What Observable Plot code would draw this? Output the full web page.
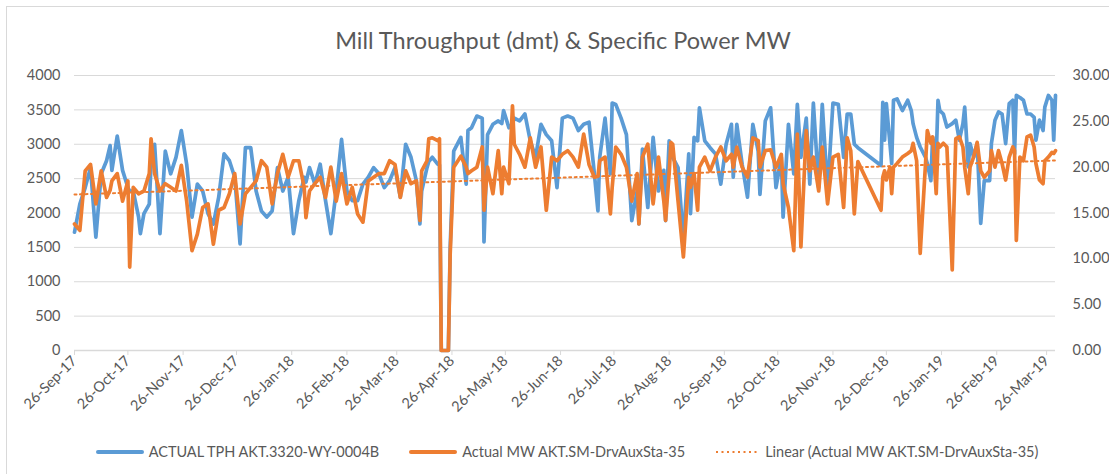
<!DOCTYPE html>
<html>
<head>
<meta charset="utf-8">
<script src="https://cdn.jsdelivr.net/npm/d3@7"></script>
<script src="https://cdn.jsdelivr.net/npm/@observablehq/plot@0.6"></script>
<style>
  html, body { margin: 0; padding: 0; background: #fff; overflow: hidden; width: 1109px; height: 474px; }
  body { font-family: Lato, "Open Sans", sans-serif; color: #595959; position: relative; }
  #frame { position: absolute; left: 6px; top: 6px; width: 1300px; height: 700px; border: 1px solid #d9d9d9; box-sizing: border-box; }
  #title { position: absolute; left: 0; top: 27px; width: 1126px; text-align: center; font-size: 23.5px; line-height: 26px; color: #595959; }
  #chart { position: absolute; left: 0; top: 60px; }
  #legend { position: absolute; left: 0; top: 442px; width: 1134px; display: flex; justify-content: center; gap: 30px; font-size: 14.5px; line-height: 20px; color: #595959; }
  .item { display: flex; align-items: center; white-space: nowrap; }
  .item svg { margin-right: 5px; }
</style>
</head>
<body>
<div id="frame"></div>
<div id="title">Mill Throughput (dmt) &amp; Specific Power MW</div>
<div id="chart"></div>
<div id="legend"></div>
<script>
// ---- data ----
const dates = [
"2017-09-26","2017-09-29","2017-10-02","2017-10-05","2017-10-08","2017-10-11","2017-10-14","2017-10-16","2017-10-17","2017-10-20",
"2017-10-23","2017-10-26","2017-10-27","2017-10-29","2017-11-01","2017-11-02","2017-11-04","2017-11-07","2017-11-08","2017-11-10",
"2017-11-13","2017-11-16","2017-11-19","2017-11-22","2017-11-25","2017-11-28","2017-12-01","2017-12-04","2017-12-07","2017-12-10",
"2017-12-13","2017-12-16","2017-12-19","2017-12-22","2017-12-25","2017-12-28","2017-12-31","2018-01-03","2018-01-06","2018-01-09",
"2018-01-12","2018-01-15","2018-01-18","2018-01-21","2018-01-24","2018-01-27","2018-01-30","2018-02-02","2018-02-03","2018-02-05",
"2018-02-08","2018-02-11","2018-02-14","2018-02-17","2018-02-20","2018-02-23","2018-02-26","2018-03-01","2018-03-04","2018-03-07",
"2018-03-10","2018-03-13","2018-03-16","2018-03-19","2018-03-22","2018-03-25","2018-03-28","2018-03-31","2018-04-03","2018-04-06",
"2018-04-08","2018-04-09","2018-04-12","2018-04-13","2018-04-15","2018-04-18","2018-04-19","2018-04-20","2018-04-24","2018-04-25",
"2018-04-27","2018-05-01","2018-05-04","2018-05-05","2018-05-07","2018-05-10","2018-05-13","2018-05-14","2018-05-16","2018-05-19",
"2018-05-22","2018-05-24","2018-05-25","2018-05-28","2018-05-30","2018-05-31","2018-06-03","2018-06-06","2018-06-09","2018-06-12",
"2018-06-15","2018-06-18","2018-06-21","2018-06-24","2018-06-27","2018-06-30","2018-07-03","2018-07-06","2018-07-09","2018-07-12",
"2018-07-15","2018-07-17","2018-07-18","2018-07-21","2018-07-24","2018-07-25","2018-07-27","2018-07-30","2018-08-02","2018-08-05",
"2018-08-08","2018-08-09","2018-08-11","2018-08-14","2018-08-17","2018-08-20","2018-08-23","2018-08-24","2018-08-26","2018-08-27",
"2018-08-28","2018-08-31","2018-09-03","2018-09-06","2018-09-07","2018-09-09","2018-09-11","2018-09-12","2018-09-15","2018-09-18",
"2018-09-21","2018-09-24","2018-09-27","2018-09-30","2018-10-01","2018-10-03","2018-10-06","2018-10-09","2018-10-12","2018-10-15",
"2018-10-16","2018-10-19","2018-10-22","2018-10-25","2018-10-28","2018-10-29","2018-11-01","2018-11-04","2018-11-06","2018-11-08",
"2018-11-11","2018-11-13","2018-11-15","2018-11-18","2018-11-20","2018-11-23","2018-11-26","2018-11-29","2018-12-02","2018-12-04",
"2018-12-06","2018-12-08","2018-12-10","2018-12-23","2018-12-24","2018-12-25","2018-12-26","2018-12-28","2018-12-29","2018-12-30",
"2019-01-01","2019-01-04","2019-01-07","2019-01-09","2019-01-10","2019-01-12","2019-01-14","2019-01-17","2019-01-18","2019-01-20",
"2019-01-21","2019-01-23","2019-01-24","2019-01-25","2019-01-27","2019-01-29","2019-02-01","2019-02-03","2019-02-05","2019-02-07",
"2019-02-08","2019-02-10","2019-02-11","2019-02-13","2019-02-15","2019-02-17","2019-02-19","2019-02-22","2019-02-23","2019-02-25",
"2019-02-27","2019-03-01","2019-03-03","2019-03-05","2019-03-07","2019-03-08","2019-03-09","2019-03-11","2019-03-13","2019-03-15",
"2019-03-17","2019-03-19","2019-03-20","2019-03-22","2019-03-24","2019-03-25","2019-03-27","2019-03-29","2019-03-30","2019-03-31"
];
const actualTPH = [
1720,2130,2370,2660,1650,2570,2760,2980,2620,3120,
2620,2370,2320,2320,1940,1700,1990,2130,2710,3000,
1700,2900,2570,2810,3200,2710,1940,2420,2320,1990,
1840,2230,2860,2760,2520,1550,2950,2950,2320,2030,
1940,2030,2660,2320,2520,1700,2180,2520,2450,2660,
2420,2710,2180,1700,2320,3070,2320,2180,2180,2420,
2520,2660,2570,2370,2470,2660,2230,3000,2810,2470,
1840,2320,2660,2750,2810,2710,2700,0,0,1500,
2900,3100,2420,3200,3240,3410,3380,1580,3140,3290,
3340,3300,3490,3240,3300,3380,3340,3440,3050,2810,
3290,3140,3050,2370,3380,3410,3380,3200,3290,3320,
2570,2030,2810,3380,2570,3600,3580,3380,3140,1890,
2320,1840,2930,2080,3100,2320,2620,1890,3050,2810,
2810,2660,1600,2860,1990,3100,3050,3530,3050,2950,
2860,2420,3000,3290,2520,3290,2710,2230,3290,2900,
2270,3340,3530,2370,2810,1940,3290,2570,3580,2810,
3380,2420,3600,2370,3580,2320,3600,3580,2810,3440,
3440,3000,2950,2690,3610,3060,3590,3010,2720,3640,
3660,3490,3640,3490,3300,3100,2960,2810,2720,2470,
3100,2810,3640,3490,3440,3250,3300,3350,3060,3300,
3540,2670,3010,2810,3010,1850,2470,2470,3010,3350,
3470,3440,3010,3590,3640,2860,3710,3680,3640,3440,
3440,3390,3060,3350,3200,3540,3710,3640,3060,3710
];
const actualMW = [
13.8,13.1,19.6,20.3,16.0,19.6,16.7,17.5,18.5,19.3,
16.3,18.5,9.1,17.8,17.1,17.2,17.4,19.3,23.1,19.3,
17.4,18.2,17.8,17.4,20.2,16.3,10.9,12.7,15.6,16.0,
11.6,15.3,15.6,17.1,19.3,13.8,17.1,17.8,18.5,20.7,
20.0,16.0,19.3,21.4,18.9,20.7,20.7,17.8,14.5,17.4,
18.2,18.9,16.7,20.0,16.3,19.3,16.0,17.8,14.9,14.0,
18.5,18.9,19.3,19.3,20.7,20.3,16.7,19.6,18.2,18.5,
14.2,19.6,20.7,23.1,23.2,22.9,23.1,0,0,10.5,
20.0,21.2,20.0,19.3,19.6,20.0,22.2,15.3,20.0,17.1,
21.8,17.1,20.0,18.2,26.7,22.5,21.4,20.0,23.2,20.0,
22.2,15.3,21.1,20.7,21.4,21.8,21.1,20.0,23.6,20.3,
18.9,19.0,20.7,21.1,14.9,17.8,22.2,21.4,20.0,16.3,
19.3,13.8,21.1,22.5,16.0,21.1,16.3,14.2,19.3,22.7,
22.5,16.3,10.2,18.9,17.8,19.3,15.3,20.0,21.1,19.6,
21.1,22.2,20.7,21.4,20.0,22.2,20.0,18.9,23.2,22.9,
20.0,21.8,21.9,20.0,21.4,18.2,15.6,10.9,23.6,11.3,
24.0,19.6,21.1,17.4,22.2,16.0,21.1,21.4,15.6,23.2,
21.8,14.9,20.6,15.3,18.9,19.6,18.6,20.0,17.1,20.0,
20.4,21.1,21.5,21.8,22.6,20.7,10.6,20.4,24.0,22.6,
23.3,17.1,22.6,22.2,22.6,22.2,8.8,23.1,23.3,22.2,
20.0,17.1,20.0,21.1,22.7,19.6,18.9,19.6,21.8,20.0,
21.8,20.4,18.6,21.1,22.2,21.8,12.0,21.1,20.7,23.3,
23.5,22.2,20.4,18.6,18.2,20.7,21.1,21.6,21.5,21.8
];
const leftTicks = [0, 500, 1000, 1500, 2000, 2500, 3000, 3500, 4000];
const rightTicks = [0, 5, 10, 15, 20, 25, 30];
const leftMax = 4000, rightMax = 30;
const xTickLabels = ["2017-09-26","2017-10-26","2017-11-26","2017-12-26","2018-01-26","2018-02-26","2018-03-26","2018-04-26","2018-05-26","2018-06-26","2018-07-26","2018-08-26","2018-09-26","2018-10-26","2018-11-26","2018-12-26","2019-01-26","2019-02-26","2019-03-26"];
const xDomain = ["2017-09-26", "2019-03-31"];
const seriesNames = ["ACTUAL TPH AKT.3320-WY-0004B", "Actual MW AKT.SM-DrvAuxSta-35", "Linear (Actual MW AKT.SM-DrvAuxSta-35)"];
const colors = ["#5b9bd5", "#ed7d31"];

// ---- build ----
const parse = d3.utcParse("%Y-%m-%d");
const toLeft = v => v * leftMax / rightMax;   // secondary (MW) axis mapped onto the primary scale
const rows = dates.map((d, i) => ({date: parse(d), tph: actualTPH[i], mw: actualMW[i], mwLeft: toLeft(actualMW[i])}));

// least-squares linear trend of MW against date (Excel "Linear" trendline)
const xs = rows.map(r => +r.date), ys = rows.map(r => r.mwLeft);
const mx = d3.mean(xs), my = d3.mean(ys);
const slope = d3.sum(xs.map((x, i) => (x - mx) * (ys[i] - my))) / d3.sum(xs.map(x => (x - mx) ** 2));
const intercept = my - slope * mx;
const trend = d3.extent(xs).map(x => ({date: new Date(x), v: intercept + slope * x}));

const fmt = d3.utcFormat("%d-%b-%y");
const chart = Plot.plot({
  width: 1109,
  height: 370,
  marginLeft: 74,
  marginRight: 54,
  marginTop: 15,
  marginBottom: 80,
  style: {fontFamily: "Lato, 'Open Sans', sans-serif", fontSize: "14.5px", color: "#595959", background: "transparent"},
  x: {type: "utc", domain: xDomain.map(parse)},
  y: {domain: [0, leftMax]},
  marks: [
    Plot.gridY(leftTicks.filter(t => t > 0), {stroke: "#d9d9d9", strokeOpacity: 1, strokeWidth: 1}),
    Plot.ruleY([0], {stroke: "#d9d9d9", strokeWidth: 1.3}),
    Plot.axisY(leftTicks, {anchor: "left", tickSize: 0, tickPadding: 14, tickFormat: d => String(d), label: null, fill: "#595959"}),
    Plot.axisY(rightTicks.map(toLeft), {anchor: "right", tickSize: 0, tickPadding: 17, tickFormat: d => (d * rightMax / leftMax).toFixed(2), label: null, fill: "#595959"}),
    Plot.axisX(xTickLabels.map(parse), {tickRotate: -45, tickFormat: fmt, tickSize: 5, tickPadding: 3, stroke: "#d9d9d9", fill: "#595959", label: null}),
    Plot.lineY(rows, {x: "date", y: "tph", stroke: colors[0], strokeWidth: 3.7, strokeLinejoin: "round", strokeLinecap: "round"}),
    Plot.lineY(rows, {x: "date", y: "mwLeft", stroke: colors[1], strokeWidth: 3.7, strokeLinejoin: "round", strokeLinecap: "round"}),
    Plot.line(trend, {x: "date", y: "v", stroke: colors[1], strokeWidth: 2, strokeDasharray: "2 3.5"})
  ]
});
document.getElementById("chart").appendChild(chart);

// ---- legend ----
const legend = document.getElementById("legend");
const swatches = [
  `<svg width="48" height="8"><line x1="2" y1="4" x2="46" y2="4" stroke="${colors[0]}" stroke-width="4" stroke-linecap="round"/></svg>`,
  `<svg width="48" height="8"><line x1="2" y1="4" x2="46" y2="4" stroke="${colors[1]}" stroke-width="4" stroke-linecap="round"/></svg>`,
  `<svg width="45" height="8"><line x1="1" y1="4" x2="44" y2="4" stroke="${colors[1]}" stroke-width="2" stroke-dasharray="2 3.5"/></svg>`
];
seriesNames.forEach((name, i) => {
  const item = document.createElement("div");
  item.className = "item";
  item.innerHTML = swatches[i] + `<span>${name}</span>`;
  legend.appendChild(item);
});
</script>
</body>
</html>
